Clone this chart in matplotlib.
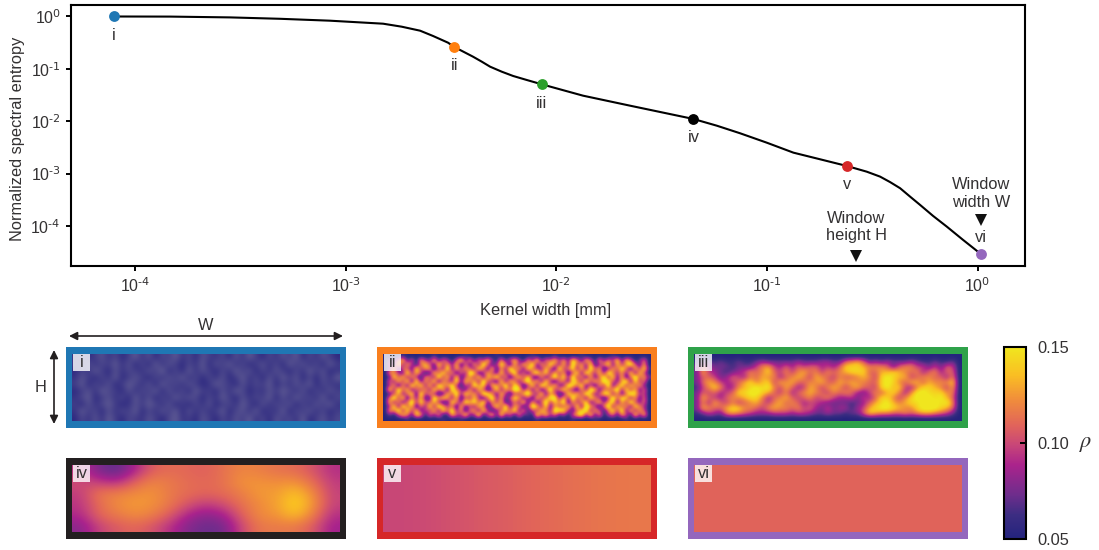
import numpy as np
import matplotlib
matplotlib.use('Agg')
import matplotlib.pyplot as plt
from matplotlib.cm import ScalarMappable
from matplotlib.colors import LinearSegmentedColormap, Normalize
from matplotlib.patches import Rectangle, FancyArrowPatch
from matplotlib.ticker import NullLocator

plt.rcParams['font.family'] = ['Liberation Sans', 'DejaVu Sans']
text_color = '#333132'
plt.rcParams['text.color'] = text_color
plt.rcParams['axes.labelcolor'] = text_color
plt.rcParams['xtick.labelcolor'] = text_color
plt.rcParams['ytick.labelcolor'] = text_color

# Curve
kernel_width = [7.95e-5, 1.466e-4, 2.826e-4, 4.88e-4, 8.43e-4, 1.506e-3, 1.846e-3, 2.257e-3,
                2.60e-3, 3.063e-3, 3.28e-3, 4.025e-3, 4.43e-3, 4.85e-3, 5.51e-3, 6.24e-3,
                7.24e-3, 8.53e-3, 0.0134, 0.0224, 0.0448, 0.0578, 0.0746, 0.0999,
                0.1336, 0.1789, 0.2394, 0.298, 0.3448, 0.3846, 0.4291, 0.4786,
                0.5338, 0.6152, 0.7149, 0.8542, 1.04]
entropy = [1.0, 0.9956, 0.961, 0.904, 0.8315, 0.7288, 0.6388, 0.5358,
           0.4246, 0.3162, 0.2618, 0.1709, 0.1372, 0.1102, 0.0884, 0.0732,
           0.0614, 0.0508, 0.0308, 0.01984, 0.01106, 0.00824, 0.0059, 0.0039,
           0.002517, 0.00188, 0.001403, 0.00109, 0.000877, 0.000690, 0.000527, 0.000364,
           0.000253, 0.000156, 9.74e-5, 5.43e-5, 2.9e-5]

# Highlighted points
point_names = ['i', 'ii', 'iii', 'iv', 'v', 'vi']
point_x = [7.95e-5, 3.28e-3, 8.53e-3, 0.0448, 0.2394, 1.04]
point_y = [1.0, 0.2618, 0.0508, 0.01106, 0.001403, 2.9e-5]
point_colors = ['#1f77b4', '#ff7f0e', '#2ca02c', '#000000', '#d62728', '#9467bd']

# Window size markers
window_x = [0.2652, 1.04]
window_y = [2.69e-5, 1.31e-4]

# Axis ticks
x_ticks = [1e-4, 1e-3, 1e-2, 1e-1, 1e0]
x_tick_labels = ['-4', '-3', '-2', '-1', '0']
y_ticks = [1e-4, 1e-3, 1e-2, 1e-1, 1e0]
y_tick_labels = ['-4', '-3', '-2', '-1', '0']

# Density maps, digits 0-9 run from the bottom to the top of the scale
map_i = [
    '2413524136 2514362415 3241526314 2536142531',
    '3152436251 4162531426 1536241352 4163524163',
    '1426315243 2537141625 3142635142 5314263512',
    '2531426135 3142536241 4251362415 2635141526',
    '3614251364 2516342531 2643152436 1425361432',
    '1352643152 4361524163 3152641325 3642514253',
    '2461352416 2514263541 4263152436 1526342614',
    '3152463125 3642513142 5134263152 4351425362',
    '2634152436 1425361524 2361452613 2614352413',
    '1425263143 2531462315 3142536241 5342613524',
]
map_ii = [
    '0000100000 0100000010 0000010000 0001000010 0000100000 0100000000',
    '0325714063 2715304826 1537206147 3062815473 6285174062 5381740250',
    '0418263057 4183627051 6294138507 2749163852 7194628035 8173694160',
    '0270541836 6052917364 2851706294 6185327409 3582719460 2648507381',
    '0653192740 1748360529 7036418259 1506948273 6048195372 9536281740',
    '0184726305 5293718046 3817592604 7382061594 8293607158 3817059462',
    '0527380916 3806429175 6294308175 2694718305 5186293749 7426918350',
    '0360619482 7195683042 9581764928 5038196472 2975814063 9158374620',
    '0829471536 2847095316 1740382659 8261704935 8430629715 4692837150',
    '0147258093 6301749285 6298517304 3795281640 1857396248 8261597340',
    '0593806271 1958627043 7305926148 6140735892 7294618530 3948726150',
    '0726159384 4730185296 8491637025 2806149375 9063581472 6817394250',
    '0381947052 8296350714 2750483916 5039728164 4728196305 9274618530',
    '0659283714 3718492605 6183025749 1604375298 8315792640 5839172640',
    '0204751860 5260174382 3904718250 6120847351 3047928160 3516408270',
    '0000010000 0001000100 0000000000 0000100000 0010000100 0000100000',
]
map_iii = [
    '00000 00000 00000 00000 00000 00000 00000 00000 00000',
    '12212 11211 23222 22322 23322 56752 32322 23211 21120',
    '26322 21222 46743 53545 53435 88876 66525 66442 42540',
    '27432 12346 56854 64675 64656 78885 57787 65635 63550',
    '25542 35436 57663 56764 76546 55676 48987 74566 55360',
    '25764 34578 67847 67556 67557 67665 58986 57757 66680',
    '14686 33678 98964 75347 64676 46755 48978 43688 76470',
    '25453 45889 98754 63567 65465 65324 65786 36998 88660',
    '27543 56678 86356 75456 45643 34243 58864 68999 89750',
    '26375 46456 75467 56534 43222 21235 78976 78899 98960',
    '27655 78866 54676 65645 32423 31347 89987 66899 98750',
    '12432 67654 33344 43443 22322 12258 76655 65677 65420',
    '00000 00000 00000 00000 00000 00000 00000 00000 00000',
]
map_iv = [
    [0.094, 0.076, 0.068, 0.088, 0.108, 0.112, 0.110, 0.108, 0.114, 0.120, 0.118, 0.114, 0.112, 0.104, 0.092],
    [0.102, 0.096, 0.090, 0.108, 0.120, 0.116, 0.112, 0.110, 0.114, 0.124, 0.124, 0.122, 0.124, 0.112, 0.096],
    [0.096, 0.116, 0.118, 0.122, 0.124, 0.116, 0.112, 0.110, 0.112, 0.118, 0.126, 0.126, 0.137, 0.122, 0.098],
    [0.094, 0.112, 0.122, 0.126, 0.124, 0.116, 0.104, 0.096, 0.102, 0.114, 0.122, 0.128, 0.142, 0.126, 0.098],
    [0.090, 0.110, 0.116, 0.122, 0.118, 0.106, 0.088, 0.080, 0.086, 0.108, 0.122, 0.124, 0.136, 0.118, 0.092],
    [0.080, 0.098, 0.106, 0.110, 0.104, 0.092, 0.078, 0.072, 0.074, 0.100, 0.116, 0.116, 0.116, 0.106, 0.086],
]
map_v = [[0.099, 0.104, 0.108, 0.113, 0.116]]
map_vi = [[0.109]]

cbar_ticks = [0.05, 0.10, 0.15]
cbar_labels = ['0.05', '0.10', '0.15']
cbar_positions = [0, 0.125, 0.23, 0.385, 0.49, 0.594, 0.724, 0.854, 1]
cbar_colors = ['#23237d', '#3c2d82', '#6e2d8c', '#aa238c', '#c84678', '#e1645a', '#f08c3c', '#fabe23', '#f0e61e']
speckle_colors = ['#241f7d', '#6a6698']


def digits(rows):
    return np.array([[int(c) for c in r.replace(' ', '')] for r in rows], dtype=float)


def power_labels(exps):
    return [r'$\mathdefault{10^{\text{%s}}}$' % e for e in exps]


W, H = 1099, 550
fig = plt.figure(figsize=(W / 100, H / 100), dpi=100)


def px_axes(x0, y0, x1, y1):
    return fig.add_axes([x0 / W, 1 - y1 / H, (x1 - x0) / W, (y1 - y0) / H])


# Top panel
ax = px_axes(71, 4.5, 1025, 266)
ax.plot(kernel_width, entropy, color='black', lw=1.5, zorder=2)
for x, y, c in zip(point_x, point_y, point_colors):
    ax.plot(x, y, 'o', color=c, ms=7.8, mew=0, zorder=3)
for x, y, name in zip(point_x, point_y, point_names):
    offset = 12 if name == 'vi' else -13.5
    ax.annotate(name, (x, y), xytext=(0, offset), textcoords='offset points',
                ha='center', va='center', fontsize=11.8)
ax.plot(window_x, window_y, 'v', color='#111111', ms=9, mew=0, zorder=3)
ax.annotate('Window\nheight H', (window_x[0], window_y[0]), xytext=(0, 21), textcoords='offset points',
            ha='center', va='center', fontsize=11.8, linespacing=1.2)
ax.annotate('Window\nwidth W', (window_x[1], window_y[1]), xytext=(0, 19), textcoords='offset points',
            ha='center', va='center', fontsize=11.8, linespacing=1.2)
ax.set_xscale('log')
ax.set_yscale('log')
ax.set_xlim(10 ** -4.304, 10 ** 0.2255)
ax.set_ylim(10 ** -4.763, 10 ** 0.229)
ax.set_xticks(x_ticks)
ax.set_xticklabels(power_labels(x_tick_labels))
ax.set_yticks(y_ticks)
ax.set_yticklabels(power_labels(y_tick_labels))
ax.xaxis.set_minor_locator(NullLocator())
ax.yaxis.set_minor_locator(NullLocator())
ax.tick_params(width=1.4, length=3.8, labelsize=11.5, pad=3.5)
for s in ax.spines.values():
    s.set_linewidth(1.5)
fig.text(546 / W, 1 - 310 / H, 'Kernel width [mm]', ha='center', va='center', fontsize=11.8)
fig.text(18 / W, 1 - 139 / H, 'Normalized spectral entropy', ha='center', va='center',
         rotation=90, fontsize=11.8)

# Colour scale of the maps
cmap = LinearSegmentedColormap.from_list('rho', list(zip(cbar_positions, cbar_colors)))
speckle = LinearSegmentedColormap.from_list('speckle', speckle_colors)
norm = Normalize(0.05, 0.15)

grids = [
    (digits(map_i), speckle, Normalize(0, 7)),
    (digits(map_ii), cmap, Normalize(0, 7.5)),
    (digits(map_iii), cmap, Normalize(0, 8.5)),
    (np.array(map_iv), cmap, norm),
    (np.array(map_v), cmap, norm),
    (np.array(map_vi), cmap, norm),
]
frame_colors = ['#1f77b4', '#f97f1e', '#2fa24a', '#231f20', '#d62728', '#9467bd']
col_x = [66, 377, 688]
row_y = [347, 458]
for k, (data, cm, nm) in enumerate(grids):
    x0, y0 = col_x[k % 3], row_y[k // 3]
    a = px_axes(x0, y0, x0 + 280, y0 + 81)
    a.set_facecolor(frame_colors[k])
    a.imshow(data, cmap=cm, norm=nm, extent=[6, 274, 74, 7], aspect='auto',
             interpolation='bicubic', zorder=1)
    a.set_xlim(0, 280)
    a.set_ylim(81, 0)
    a.set_xticks([])
    a.set_yticks([])
    for s in a.spines.values():
        s.set_visible(False)
    a.add_patch(Rectangle((7, 7), 17, 17, facecolor='white', alpha=0.8, lw=0, zorder=2))
    a.text(15.5, 15.5, point_names[k], ha='center', va='center', fontsize=11.8, zorder=3)

# Colorbar
cax = px_axes(1004, 347, 1026, 539)
cb = fig.colorbar(ScalarMappable(norm=norm, cmap=cmap), cax=cax, ticks=cbar_ticks)
cb.ax.set_yticklabels(cbar_labels, fontsize=11.8)
cb.ax.tick_params(direction='in', length=4.5, width=1.4, pad=8)
cb.outline.set_linewidth(1.5)
fig.text(1086 / W, 1 - 443 / H, r'$\rho$', ha='center', va='center', fontsize=16, math_fontfamily='stix')

# Window size arrows
arrow = dict(arrowstyle='<|-|>', color='#231f20', lw=1.2, mutation_scale=12, shrinkA=0, shrinkB=0)
fig.add_artist(FancyArrowPatch((69 / W, 1 - 336 / H), (343 / W, 1 - 336 / H),
                               transform=fig.transFigure, **arrow))
fig.add_artist(FancyArrowPatch((54 / W, 1 - 350 / H), (54 / W, 1 - 424 / H),
                               transform=fig.transFigure, **arrow))
fig.text(206 / W, 1 - 325 / H, 'W', ha='center', va='center', fontsize=11.8)
fig.text(41 / W, 1 - 387 / H, 'H', ha='center', va='center', fontsize=11.8)

fig.savefig('out.png', dpi=100)
